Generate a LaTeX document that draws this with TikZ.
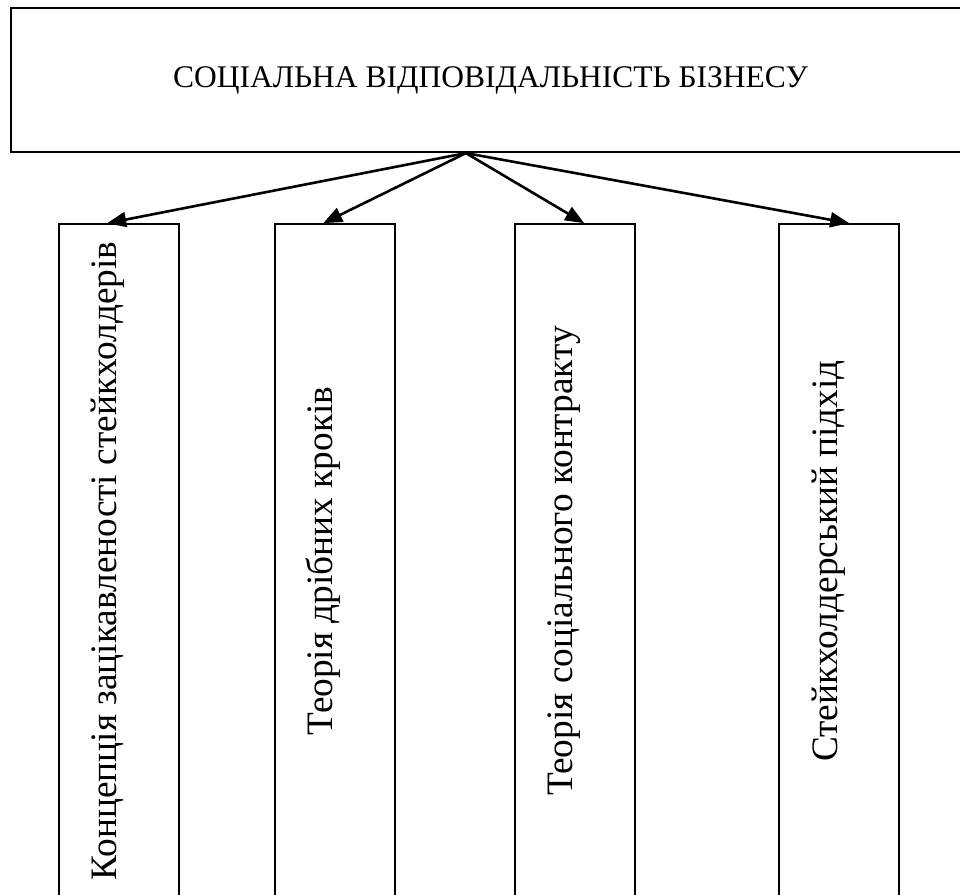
\documentclass[tikz,border=0pt]{standalone}
\usepackage{fontspec}
\setmainfont{Liberation Serif}
\newfontfamily\tnr{Liberation Serif}
\usetikzlibrary{arrows.meta,calc}
\begin{document}
\begin{tikzpicture}[x=1pt,y=-1pt,
  topbox/.style={draw,line width=2.2pt,minimum width=959pt,minimum height=144pt,inner sep=0pt,font=\tnr\fontsize{31.5}{36}\selectfont},
  vbox/.style={draw,line width=1.6pt,minimum width=120pt,minimum height=674pt,inner sep=0pt},
  vtext/.style={rotate=90,anchor=base,inner sep=0pt,font=\tnr\fontsize{37.3}{42}\selectfont},
  arr/.style={line width=2.6pt,-{Triangle[length=19pt,width=15pt]}}]
\useasboundingbox (0,0) rectangle (960,894);
\clip (0,0) rectangle (960,894);
\fill[white] (0,0) rectangle (960,894);
\node[topbox] (top) at (490.5,80) {СОЦІАЛЬНА ВІДПОВІДАЛЬНІСТЬ БІЗНЕСУ};
\node[vbox] (b1) at (119,561) {};
\node[vbox] (b2) at (335,561) {};
\node[vbox] (b3) at (575,561) {};
\node[vbox] (b4) at (839,561) {};
\node[vtext] (t1) at (116,561) {Концепція зацікавленості стейкхолдерів};
\node[vtext] (t2) at (332,561) {Теорія дрібних кроків};
\node[vtext] (t3) at (572,561) {Теорія соціального контракту};
\node[vtext] (t4) at (837,561) {Стейкхолдерський підхід};
\coordinate (src) at ($(top.south west)+(456,0)$);
\draw[arr] (src) -- ($(b1.north west)+(49,0)$);
\draw[arr] (src) -- ($(b2.north west)+(49,0)$);
\draw[arr] (src) -- ($(b3.north west)+(70,0)$);
\draw[arr] (src) -- ($(b4.north west)+(71,0)$);
\end{tikzpicture}
\end{document}
